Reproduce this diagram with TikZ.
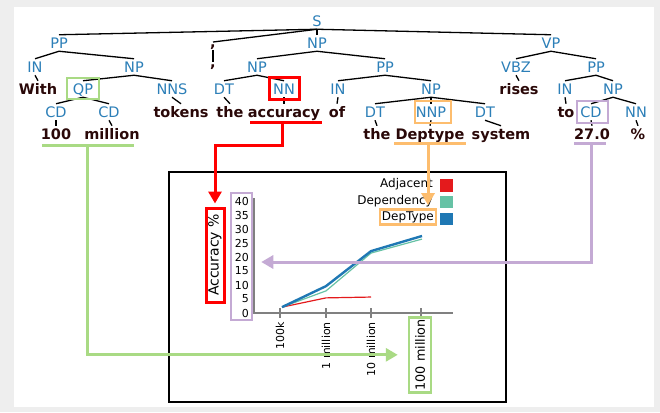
\documentclass[tikz,border=0pt]{standalone}
\usepackage{fontspec}
\setmainfont{DejaVu Sans}
\usetikzlibrary{arrows.meta}

\definecolor{tagblue}{HTML}{2C7FB8}
\definecolor{wordbrown}{HTML}{2A0808}
\definecolor{hlgreen}{HTML}{A9DA84}
\definecolor{hlorange}{HTML}{FDBD6E}
\definecolor{hlpurple}{HTML}{C4AAD4}
\definecolor{adjred}{HTML}{E41A1C}
\definecolor{depteal}{HTML}{66C2A5}
\definecolor{dtblue}{HTML}{1F78B4}

\tikzset{
  tag/.style={text=tagblue, font=\fontsize{14.5}{16}\selectfont, inner sep=0pt,
    text height=10.5pt, text depth=0pt, outer sep=3pt},
  word/.style={text=wordbrown, font=\fontsize{14.5}{16}\selectfont\bfseries, inner sep=0pt,
    text height=10.5pt, text depth=0pt, outer sep=3pt},
  punct/.style={word, text height=3pt, outer sep=2.5pt},
  edge/.style={line width=1.3pt},
  hlbox/.style={line width=2.5pt, inner sep=0pt},
  hlline/.style={line width=3pt},
  hlarrow/.style={line width=3pt, -{Triangle[length=12pt,width=13pt]}},
  ticklab/.style={font=\fontsize{11}{13}\selectfont, inner sep=1pt},
  legtext/.style={font=\fontsize{12}{14}\selectfont, inner sep=1pt},
  legsq/.style={minimum width=13pt, minimum height=12.5pt, inner sep=0pt}
}

\begin{document}
\begin{tikzpicture}[x=1pt, y=-1pt]
\useasboundingbox (0,0) rectangle (660,412);
\fill[gray!13] (0,0) rectangle (660,412);
\fill[white] (14,7) rectangle (654,407);

% parse tree
\foreach \n/\t/\x/\y in {s/S/317/21, pp1/PP/59/43, np1/NP/317/43, vp/VP/551/43,
    in1/IN/35/67, np2/NP/134/67, np3/NP/257/67, pp2/PP/385/67, vbz/VBZ/516/67, pp3/PP/596/67,
    qp/QP/83/89, nns/NNS/172/89, dt1/DT/224/89, nn1/NN/284/89, in2/IN/338/89, np4/NP/431/89,
    in3/IN/565/89, np5/NP/613/89,
    cd1/CD/56/112, cd2/CD/109/112, dt2/DT/375/112, nnp/NNP/431/112, dt3/DT/485/112,
    cd3/CD/591/112, nn2/NN/636/112}
  \node[tag] (\n) at (\x,\y) {\t};
\node[punct] (cm) at (213,46) {,};

\foreach \n/\t/\x/\y in {wwith/With/38/89, wrises/rises/519/89,
    wtokens/tokens/181/112, wthe/the/230/112, wacc/accuracy/284/112, wof/of/337/112, wto/to/566/112,
    w100/100/56/134, wmil/million/112/134, wthe2/the/377/134, wdep/Deptype/430/134,
    wsys/system/501/134, w27/27.0/592/134, wpct/\%/638/134}
  \node[word] (\n) at (\x,\y) {\t};
\node[punct] (wcm) at (213,66) {,};

\foreach \a/\b in {s/pp1, s/cm, s/np1, s/vp, pp1/in1, pp1/np2, np2/qp, np2/nns, qp/cd1, qp/cd2,
    np1/np3, np1/pp2, np3/dt1, np3/nn1, pp2/in2, pp2/np4, np4/dt2, np4/nnp, np4/dt3,
    vp/vbz, vp/pp3, pp3/in3, pp3/np5, np5/cd3, np5/nn2}
  \draw[edge] (\a.south) -- (\b.north);

% leaves
\foreach \a/\b in {cm/wcm, in1/wwith, cd1/w100, cd2/wmil, nns/wtokens, dt1/wthe, nn1/wacc, in2/wof,
    dt2/wthe2, nnp/wdep, dt3/wsys, vbz/wrises, in3/wto, cd3/w27, nn2/wpct}
  \draw[edge] (\a.south) -- (\b.north);

\node[hlbox, draw=hlgreen, minimum width=32pt, minimum height=21pt] (qpbox) at (83,88.5) {};
\node[hlbox, draw=red, line width=3pt, minimum width=30pt, minimum height=22pt] (nnbox) at (284,88) {};
\node[hlbox, draw=hlorange, minimum width=36pt, minimum height=22pt] (nnpbox) at (433,112) {};
\node[hlbox, draw=hlpurple, minimum width=31pt, minimum height=22pt] (cdbox) at (592.5,112) {};

% chart
\draw[line width=1.2pt] (169,172) rectangle (506,402);
\draw[gray, line width=1.4pt] (254,198) -- (254,313) -- (453,313);
\foreach \v in {0,5,...,40}
  \node[ticklab, anchor=east] at (250,{313-2.8*\v}) {\v};
\node[hlbox, draw=hlpurple, minimum width=21pt, minimum height=127pt] (ybox) at (241.5,256.5) {};
\node[font=\fontsize{14}{16}\selectfont, rotate=90, draw=red, line width=3pt, inner sep=0pt,
  minimum width=94pt, minimum height=18pt] (acc) at (215,255) {Accuracy \%};

\foreach \x/\t in {280/100k, 326/1 million, 371/10 million}{
  \draw[gray, line width=1.4pt] (\x,308) -- (\x,318);
  \node[ticklab, rotate=90, anchor=east] at (\x,321) {\t};
}
\draw[gray, line width=1.4pt] (421,308) -- (421,318);
\node[font=\fontsize{12.8}{15}\selectfont, rotate=90, anchor=east, draw=hlgreen, line width=2.5pt,
  inner sep=2pt, minimum height=22pt] (m100) at (420,316) {100 million};

\begin{scope}[shift={(254,313)}, y=2.8pt]
  \draw[adjred, line width=1.2pt] (28,2.1) -- (72,5.4) -- (117,5.7);
  \draw[depteal, line width=1.2pt] (28,2.1) -- (72,7.9) -- (117,21.4) -- (168,26.4);
  \draw[dtblue, line width=2.4pt] (28,2.1) -- (72,9.6) -- (117,22.1) -- (168,27.5);
\end{scope}

\node[legtext, anchor=east] (l1) at (434,184) {Adjacent};
\node[legtext, anchor=east] (l2) at (434,201) {Dependency};
\node[legtext, anchor=east, draw=hlorange, line width=2.5pt, inner sep=2pt] (l3) at (437,217) {DepType};
\node[legsq, fill=adjred] (s1) at (446.5,185.5) {};
\node[legsq, fill=depteal] (s2) at (446.5,202) {};
\node[legsq, fill=dtblue] (s3) at (446.5,219) {};

% highlight links
\coordinate (gu) at (87,145);
\coordinate (ru) at (282,122);
\coordinate (ou) at (428,143);
\coordinate (pu) at (591,143);
\draw[hlline, hlgreen] (42,145) -- (134,145);
\draw[hlline, red] (250,122) -- (322,122);
\draw[hlline, hlorange] (394,143) -- (466,143);
\draw[hlline, hlpurple] (574,143) -- (606,143);

\draw[hlarrow, hlgreen, shorten >=10pt] (gu) |- (m100.north);
\draw[hlarrow, red, shorten >=3pt] (ru) -- (282,145) -| (acc.east);
\draw[hlarrow, hlorange, shorten >=3pt] (ou) -- (ou |- l3.north);
\draw[hlarrow, hlpurple, shorten >=8pt] (pu) |- ([yshift=-5.5pt]ybox.east);
\end{tikzpicture}
\end{document}
